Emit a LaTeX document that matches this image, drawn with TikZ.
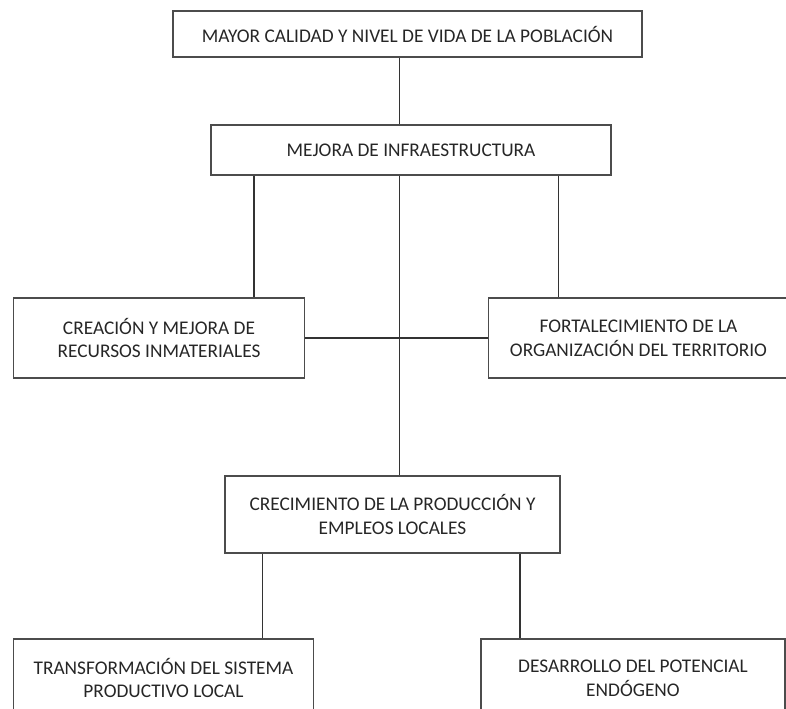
\documentclass[tikz,border=0pt]{standalone}
\usepackage{fontspec}
\setmainfont{Carlito}
\usepackage{xcolor}
\usepackage{tikz}

\begin{document}
\begin{tikzpicture}[
        x=0.75pt, y=-0.75pt,
        card/.style={
            draw=black!70, line width=1.3pt, inner sep=0pt, align=center,
            text=black!85, font=\fontsize{14.5}{17.7}\selectfont
        },
        link/.style={draw=black!80, line width=1.1pt}
    ]
        \useasboundingbox (0,0) rectangle (786,708);
        \node[card, minimum width=351.75pt, minimum height=34.5pt] (goal) at (407.5,34)
            {MAYOR CALIDAD Y NIVEL DE VIDA DE LA POBLACIÓN};
        \node[card, minimum width=300pt, minimum height=37.5pt] (infra) at (411,150)
            {MEJORA DE INFRAESTRUCTURA};
        \node[card, minimum width=218.25pt, minimum height=60pt] (recursos) at (159,338)
            {CREACIÓN Y MEJORA DE\\RECURSOS INMATERIALES};
        \node[card, minimum width=225pt, minimum height=60pt] (territorio) at (638.5,338)
            {FORTALECIMIENTO DE LA\\ORGANIZACIÓN DEL TERRITORIO};
        \node[card, minimum width=251.25pt, minimum height=57.75pt] (produccion) at (392.5,514.5)
            {CRECIMIENTO DE LA PRODUCCIÓN Y\\EMPLEOS LOCALES};
        \node[card, minimum width=225pt, minimum height=58.5pt] (sistema) at (163.5,678)
            {TRANSFORMACIÓN DEL SISTEMA\\PRODUCTIVO LOCAL};
        \node[card, minimum width=228pt, minimum height=58.5pt] (endogeno) at (633,678)
            {DESARROLLO DEL POTENCIAL\\ENDÓGENO};
        \coordinate (spine) at (399.5,0);
        \coordinate (leftdrop) at (254,0);
        \coordinate (rightdrop) at (558.5,0);
        \coordinate (lowleft) at (262.5,0);
        \coordinate (lowright) at (520,0);
        \draw[link] (goal.south -| spine) -- (infra.north -| spine);
        \draw[link] (infra.south -| spine) -- (produccion.north -| spine);
        \draw[link] (infra.south -| leftdrop) -- (recursos.north -| leftdrop);
        \draw[link] (infra.south -| rightdrop) -- (territorio.north -| rightdrop);
        \draw[link] (recursos) -- (territorio);
        \draw[link] (produccion.south -| lowleft) -- (sistema.north -| lowleft);
        \draw[link] (produccion.south -| lowright) -- (endogeno.north -| lowright);
    \end{tikzpicture}
\end{document}
